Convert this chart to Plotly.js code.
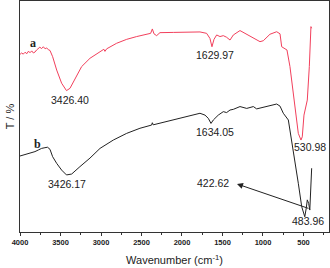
<!DOCTYPE html>
<html><head><meta charset="utf-8">
<script src="https://cdn.plot.ly/plotly-3.0.1.min.js"></script>
<style>body{margin:0;padding:0;background:#fff}#chart{width:330px;height:268px}</style>
</head><body><div id="chart"></div>
<script>
const waveA = [4000,3980,3960,3938,3915,3895,3877,3855,3835,3815,3795,3774,3755,3733,3712,3690,3671,3650,3630,3597,3547,3486,3426,3383,3321,3239,3136,3012,2965,2951,2930,2807,2683,2560,2436,2387,2366,2346,2313,2272,2107,1942,1778,1696,1655,1630,1605,1572,1531,1490,1449,1407,1366,1284,1243,1119,1037,996,914,831,790,769,728,704,667,605,564,531,515,494,469,453,428,408,400];
const transA = [76.9,77.5,77.0,77.8,77.2,78.3,77.6,78.4,77.5,77.9,78.8,79.3,80.0,79.4,80.2,79.3,79.7,78.9,78.6,75.9,70.1,64.4,61.2,62.2,66.5,71.6,75.2,78.1,79.1,78.2,79.3,81.7,83.4,84.6,85.6,86.0,87.9,85.8,85.0,86.3,86.4,86.6,86.6,86.0,83.8,80.2,83.4,85.3,84.6,85.0,84.3,83.1,85.3,87.2,86.4,84.1,82.4,82.8,85.6,86.7,85.8,80.2,79.1,78.8,71.6,52.8,42.7,39.8,41.2,50.6,54.5,57.1,71.6,88.9,88.2];
const waveB = [4000,3938,3877,3815,3774,3733,3692,3660,3630,3597,3547,3486,3426,3362,3260,3136,3012,2848,2683,2519,2375,2366,2355,2189,1983,1778,1716,1675,1642,1613,1552,1490,1449,1407,1366,1284,1201,1119,1078,996,914,831,790,749,687,626,564,522,494,484,465,453,436,422,399];
const transB = [32.9,33.5,34.1,34.8,35.5,36.2,36.5,36.7,35.8,32.6,29.7,26.8,24.7,25.1,28.3,32.0,36.2,39.8,42.7,44.9,46.3,47.3,46.4,47.8,49.6,51.4,50.6,49.2,47.0,48.5,50.6,52.1,51.7,52.8,53.1,54.3,53.5,54.3,53.3,54.0,54.5,55.4,54.5,51.4,48.5,35.5,21.1,11.0,8.1,6.6,10.5,13.9,12.4,9.5,27.6];
const xTicks = [4000,3500,3000,2500,2000,1500,1000,500];
const peakLabels = ["3426.40","1629.97","530.98","3426.17","1634.05","422.62","483.96"];
const peakX = [3383,1593,420,3420,1593,1617,444];
const peakY = [57.1,76.6,36.8,20.8,43.3,21.2,4.8];

const traces = [
  {x: waveA, y: transA, mode:'lines', line:{color:'#f2405c', width:1}, hoverinfo:'skip'},
  {x: waveB, y: transB, mode:'lines', line:{color:'#222222', width:1}, hoverinfo:'skip'}
];
const ann = peakLabels.map((t,i)=>({x:peakX[i], y:peakY[i], xref:'x', yref:'y', text:t, showarrow:false,
  font:{family:'Arial, Liberation Sans', size:10.5, color:'#222'}}));
ann.push({x:3840, y:81.8, xref:'x', yref:'y', text:'<b>a</b>', showarrow:false, font:{family:'Liberation Serif', size:12, color:'#222'}});
ann.push({x:3790, y:38.1, xref:'x', yref:'y', text:'<b>b</b>', showarrow:false, font:{family:'Liberation Serif', size:12, color:'#222'}});
ann.push({x:1321, y:20.8, xref:'x', yref:'y', ax:420, ay:10.0, axref:'x', ayref:'y', text:'', showarrow:true,
  arrowhead:2, arrowsize:1.2, arrowwidth:1, arrowcolor:'#222'});

const layout = {
  width:330, height:268, margin:{l:20, r:1, t:1, b:36},
  paper_bgcolor:'#fff', plot_bgcolor:'#fff', showlegend:false,
  xaxis:{range:[4000,185], tickvals:xTicks, ticktext:xTicks.map(String), ticks:'outside', ticklen:3, tickwidth:1, tickcolor:'#333',
    minor:{dtick:250, tick0:0, ticks:'outside', ticklen:2, tickcolor:'#333'},
    showline:true, linecolor:'#333', linewidth:1, mirror:true, showgrid:false, zeroline:false,
    tickfont:{family:'Arial, Liberation Sans', size:7.5, color:'#222', weight:'bold'},
    title:{text:'Wavenumber (cm<sup>-1</sup>)', font:{family:'Arial, Liberation Sans', size:11, color:'#222'}, standoff:10}},
  yaxis:{range:[0,100], showticklabels:false, ticks:'', showline:true, linecolor:'#333', linewidth:1, mirror:true, showgrid:false, zeroline:false,
    title:{text:'T / %', font:{family:'Arial, Liberation Sans', size:11, color:'#222'}, standoff:2}},
  annotations: ann
};
Plotly.newPlot('chart', traces, layout, {staticPlot:true, displayModeBar:false});
</script></body></html>
